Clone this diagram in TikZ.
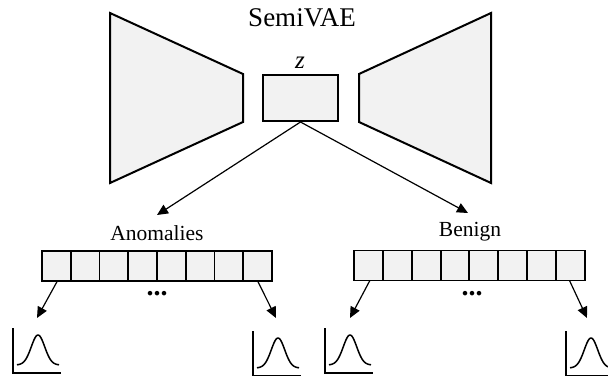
\documentclass[tikz,border=0pt]{standalone}
\usepackage{fontspec}
\setmainfont{Liberation Serif}
\usetikzlibrary{arrows.meta}
\definecolor{boxfill}{HTML}{F2F2F2}
\begin{document}
\begin{tikzpicture}[x=1pt,y=-1pt,
  block/.style={draw=black,line width=2pt,fill=boxfill,line join=miter},
  cell/.style={draw=black,line width=1.8pt,fill=boxfill,minimum width=28.75pt,minimum height=30pt,inner sep=0pt,outer sep=0pt,anchor=north west},
  arr/.style={line width=1.2pt,-{Triangle[length=11pt,width=10pt]}},
  lbl/.style={inner sep=0pt,font=\fontsize{21.5}{26}\selectfont},
  gauss/.pic={
    \draw[line width=1.2pt] (0,-45) -- (0,0) -- (48,0);
    \draw[line width=1.5pt] plot[domain=-21:21,samples=60,smooth] ({25+\x},{-8-30*exp(-((\x/9.5)^2))});
  }]
\useasboundingbox (0,0) rectangle (608,375);

% encoder / decoder
\draw[block] (110,13) -- (243,74) -- (243,122) -- (110,183) -- cycle;
\draw[block] (491,13) -- (359,74) -- (359,122) -- (491,183) -- cycle;
\node[block,minimum width=75pt,minimum height=46pt,inner sep=0pt] (zbox) at (300.5,98) {};
\node[inner sep=0pt,font=\fontsize{25}{30}\selectfont] (zlab) at (300,63) {\textit{z}};
\node[inner sep=0pt,font=\fontsize{27}{32}\selectfont] (title) at (302,18) {SemiVAE};

% labels
\node[lbl] (anom) at (157,233) {Anomalies};
\node[lbl] (benign) at (470,232) {Benign};

% arrays
\foreach \i in {1,...,8} {
  \node[cell] (a\i) at ({42+28.75*(\i-1)},251) {};
  \node[cell] (b\i) at ({354+28.875*(\i-1)},250.5) {};
}
\node[inner sep=0pt,font=\fontsize{28}{30}\selectfont\bfseries] (dotsa) at (157,294) {...};
\node[inner sep=0pt,font=\fontsize{28}{30}\selectfont\bfseries] (dotsb) at (472,294) {...};

% arrows from z
\coordinate (ta) at (157,215);
\coordinate (tb) at (468,213);
\draw[arr] (zbox.south) -- (ta);
\draw[arr] (zbox.south) -- (tb);

% distributions
\pic (g1) at (13,373) {gauss};
\pic (g2) at (253,376) {gauss};
\pic (g3) at (325,373) {gauss};
\pic (g4) at (566,376) {gauss};

\coordinate (t1) at (37,318);
\coordinate (t2) at (276,318);
\coordinate (t3) at (350,318);
\coordinate (t4) at (587,318);
\draw[arr] ([xshift=1pt]a1.south) -- (t1);
\draw[arr] (a8.south) -- (t2);
\draw[arr] ([xshift=1.5pt]b1.south) -- (t3);
\draw[arr] ([xshift=-1pt]b8.south) -- (t4);
\end{tikzpicture}
\end{document}
